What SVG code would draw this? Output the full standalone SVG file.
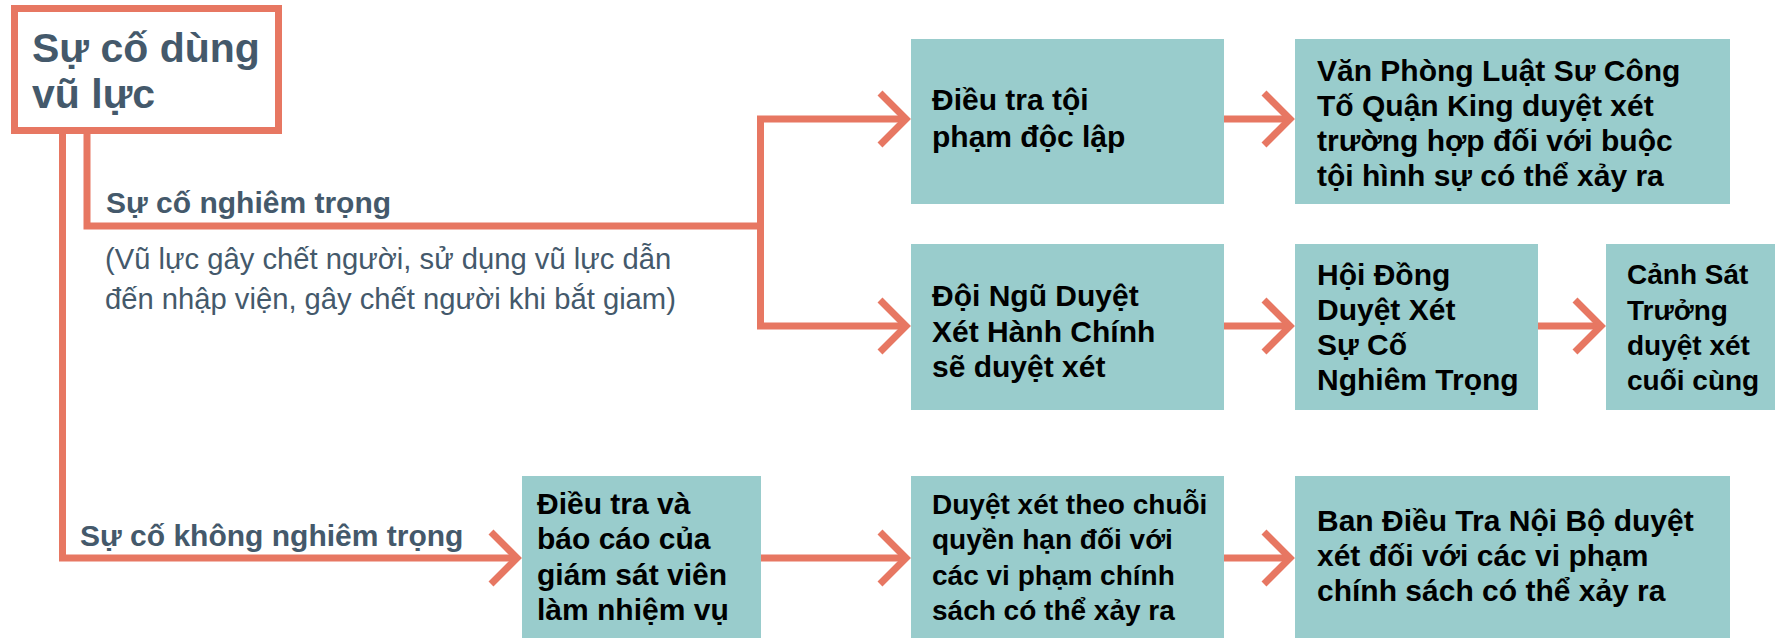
<svg xmlns="http://www.w3.org/2000/svg" xmlns:xlink="http://www.w3.org/1999/xlink" width="1775" height="638" viewBox="0 0 1775 638">
<style>
.box{fill:#99CCCC;stroke:none}
.bt{font-family:"Liberation Sans",Arial,sans-serif;font-weight:bold;font-size:30px;fill:#000}
.bs{font-family:"Liberation Sans",Arial,sans-serif;font-weight:bold;font-size:28px;fill:#000}
.lbl{font-family:"Liberation Sans",Arial,sans-serif;font-weight:bold;font-size:30px;fill:#44596B}
.sub{font-family:"Liberation Sans",Arial,sans-serif;font-size:29.2px;fill:#44596B}
.ttl{font-family:"Liberation Sans",Arial,sans-serif;font-weight:bold;font-size:41px;fill:#44596B}
.ln{fill:none;stroke:#E77762;stroke-width:7;stroke-linejoin:miter}
</style>
<defs>
<path id="chev" d="M-31,-26 L-5,0 L-31,26" fill="none" stroke="#E77762" stroke-width="7" stroke-linejoin="miter"/>
</defs>
<rect width="1775" height="638" fill="#fff"/>
<g id="connectors">
<path class="ln" d="M87,134 V226 H760.5"/>
<path class="ln" d="M906,119 H760.5 V326 H906"/>
<path class="ln" d="M62.5,134 V558 H517"/>
<path class="ln" d="M1224,119 H1290"/>
<path class="ln" d="M1224,326 H1290"/>
<path class="ln" d="M1538,326 H1601"/>
<path class="ln" d="M761,558 H906"/>
<path class="ln" d="M1224,558 H1290"/>
<use xlink:href="#chev" x="911" y="119"/>
<use xlink:href="#chev" x="911" y="326"/>
<use xlink:href="#chev" x="522" y="558"/>
<use xlink:href="#chev" x="1295" y="119"/>
<use xlink:href="#chev" x="1295" y="326"/>
<use xlink:href="#chev" x="1606" y="326"/>
<use xlink:href="#chev" x="911" y="558"/>
<use xlink:href="#chev" x="1295" y="558"/>
<text class="lbl" x="106" y="213">Sự cố nghiêm trọng</text>
<text class="sub" x="105" y="269">(Vũ lực gây chết người, sử dụng vũ lực dẫn</text>
<text class="sub" x="105" y="309">đến nhập viện, gây chết người khi bắt giam)</text>
<text class="lbl" x="80" y="546">Sự cố không nghiêm trọng</text>
</g>
<g id="main">
<rect x="14.5" y="8.5" width="264" height="122" fill="#fff" stroke="#E77762" stroke-width="7"/>
<text class="ttl" x="32" y="62">Sự cố dùng</text>
<text class="ttl" x="32" y="108">vũ lực</text>
</g>
<g id="boxA">
<rect class="box" x="911" y="39" width="313" height="165"/>
<text class="bt" x="932" y="110">Điều tra tội</text>
<text class="bt" x="932" y="147">phạm độc lập</text>
</g>
<g id="boxB">
<rect class="box" x="1295" y="39" width="435" height="165"/>
<text class="bt" x="1317" y="81">Văn Phòng Luật Sư Công</text>
<text class="bt" x="1317" y="116">Tố Quận King duyệt xét</text>
<text class="bt" x="1317" y="151">trường hợp đối với buộc</text>
<text class="bt" x="1317" y="186">tội hình sự có thể xảy ra</text>
</g>
<g id="boxC">
<rect class="box" x="911" y="244" width="313" height="166"/>
<text class="bt" x="932" y="306">Đội Ngũ Duyệt</text>
<text class="bt" x="932" y="342">Xét Hành Chính</text>
<text class="bt" x="932" y="377">sẽ duyệt xét</text>
</g>
<g id="boxD">
<rect class="box" x="1295" y="244" width="243" height="166"/>
<text class="bt" x="1317" y="285">Hội Đồng</text>
<text class="bt" x="1317" y="320">Duyệt Xét</text>
<text class="bt" x="1317" y="355">Sự Cố</text>
<text class="bt" x="1317" y="390">Nghiêm Trọng</text>
</g>
<g id="boxE">
<rect class="box" x="1606" y="244" width="169" height="166"/>
<text class="bs" x="1627" y="284">Cảnh Sát</text>
<text class="bs" x="1627" y="320">Trưởng</text>
<text class="bs" x="1627" y="355">duyệt xét</text>
<text class="bs" x="1627" y="390">cuối cùng</text>
</g>
<g id="boxF">
<rect class="box" x="522" y="476" width="239" height="162"/>
<text class="bt" x="537" y="514">Điều tra và</text>
<text class="bt" x="537" y="549">báo cáo của</text>
<text class="bt" x="537" y="585">giám sát viên</text>
<text class="bt" x="537" y="620">làm nhiệm vụ</text>
</g>
<g id="boxG">
<rect class="box" x="911" y="476" width="313" height="162"/>
<text class="bs" x="932" y="514">Duyệt xét theo chuỗi</text>
<text class="bs" x="932" y="549">quyền hạn đối với</text>
<text class="bs" x="932" y="585">các vi phạm chính</text>
<text class="bs" x="932" y="620">sách có thể xảy ra</text>
</g>
<g id="boxH">
<rect class="box" x="1295" y="476" width="435" height="162"/>
<text class="bt" x="1317" y="531">Ban Điều Tra Nội Bộ duyệt</text>
<text class="bt" x="1317" y="566">xét đối với các vi phạm</text>
<text class="bt" x="1317" y="601">chính sách có thể xảy ra</text>
</g>
</svg>
